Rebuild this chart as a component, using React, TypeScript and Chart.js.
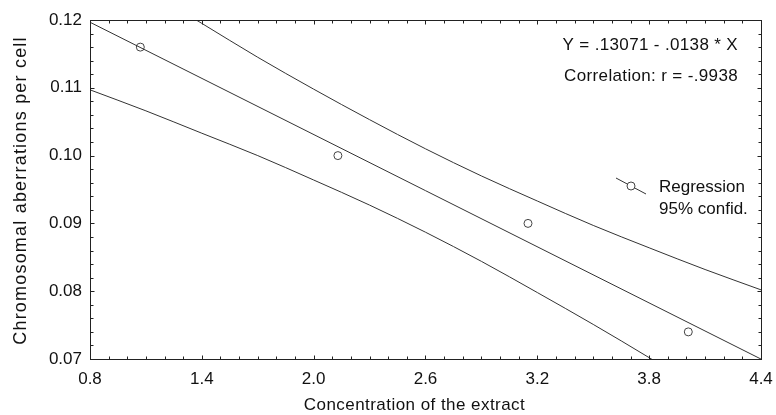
import { useEffect, useRef } from "react";
import { Chart, registerables } from "chart.js";

Chart.register(...registerables);

// Observed data points
const obsX = [1.07, 2.13, 3.15, 4.01];
const obsY = [0.116, 0.1, 0.09, 0.074];

// Regression line (read at the plot edges)
const regX = [0.8, 4.4];
const regY = [0.11967, 0.06999];

// 95% confidence band
const bandX = [0.8, 1.1, 1.4, 1.7, 2.0, 2.3, 2.6, 2.9, 3.2, 3.5, 3.8, 4.1, 4.4];
const upperY = [0.1296, 0.1245, 0.1195, 0.1145, 0.1098, 0.1053, 0.101, 0.097, 0.0933, 0.0897, 0.0864, 0.0832, 0.0802];
const lowerY = [0.1097, 0.1066, 0.1033, 0.1, 0.0964, 0.0927, 0.0887, 0.0844, 0.0798, 0.0751, 0.0702, 0.0651, 0.06];

// Axes
const xMin = 0.8;
const xMax = 4.4;
const yMin = 0.07;
const yMax = 0.12;
const xTicks = [0.8, 1.4, 2.0, 2.6, 3.2, 3.8, 4.4];
const xTickLabels = ["0.8", "1.4", "2.0", "2.6", "3.2", "3.8", "4.4"];
const yTicks = [0.07, 0.08, 0.09, 0.1, 0.11, 0.12];
const yTickLabels = ["0.07", "0.08", "0.09", "0.10", "0.11", "0.12"];
const xMinorStep = 0.1;
const yMinorStep = 0.002;

const xTitle = "Concentration of the extract";
const yTitle = "Chromosomal aberrations per cell";
const equationText = "Y = .13071 - .0138 * X";
const correlationText = "Correlation: r = -.9938";
const legendLabels = ["Regression", "95% confid."];

const FONT = '"Liberation Sans", Arial, sans-serif';
const TEXT = "#111";
const LINE = "#333";

const decorPlugin = {
  id: "decor",
  afterDatasetsDraw(chart: any) {
    const { ctx, chartArea, scales } = chart;
    const { left, right, top, bottom } = chartArea;
    const xs = scales.x;
    const ys = scales.y;
    ctx.save();
    ctx.strokeStyle = "#222";
    ctx.lineWidth = 1;
    const L = Math.round(left) + 0.5;
    const R = Math.round(right) + 0.5;
    const T = Math.round(top) + 0.5;
    const B = Math.round(bottom) + 0.5;
    ctx.strokeRect(L, T, R - L, B - T);
    ctx.beginPath();
    const nx = Math.round((xMax - xMin) / xMinorStep);
    for (let i = 0; i <= nx; i++) {
      const v = xMin + i * xMinorStep;
      const px = Math.round(xs.getPixelForValue(v)) + 0.5;
      const len = i % 6 === 0 ? 4 : 3;
      ctx.moveTo(px, B);
      ctx.lineTo(px, B - len);
      ctx.moveTo(px, T);
      ctx.lineTo(px, T + len);
    }
    const ny = Math.round((yMax - yMin) / yMinorStep);
    for (let i = 0; i <= ny; i++) {
      const v = yMin + i * yMinorStep;
      const py = Math.round(ys.getPixelForValue(v)) + 0.5;
      const len = i % 5 === 0 ? 4 : 3;
      ctx.moveTo(L, py);
      ctx.lineTo(L + len, py);
      ctx.moveTo(R, py);
      ctx.lineTo(R - len, py);
    }
    ctx.stroke();

    // annotation texts
    ctx.fillStyle = TEXT;
    ctx.font = `17px ${FONT}`;
    ctx.textAlign = "right";
    ctx.textBaseline = "middle";
    ctx.letterSpacing = "0.35px";
    ctx.fillText(equationText, 738, 45);
    ctx.fillText(correlationText, 738, 76);
    ctx.letterSpacing = "0px";

    // legend
    ctx.strokeStyle = LINE;
    ctx.beginPath();
    ctx.moveTo(616, 178);
    ctx.lineTo(646, 194);
    ctx.stroke();
    ctx.fillStyle = "#fff";
    ctx.beginPath();
    ctx.arc(631, 186, 4, 0, Math.PI * 2);
    ctx.fill();
    ctx.strokeStyle = "#444";
    ctx.stroke();
    ctx.fillStyle = TEXT;
    ctx.textAlign = "left";
    ctx.fillText(legendLabels[0], 659, 187);
    ctx.fillText(legendLabels[1], 659, 209);

    // axis titles
    ctx.textAlign = "center";
    ctx.letterSpacing = "0.45px";
    ctx.fillText(xTitle, (left + right) / 2 - 11, 405);
    ctx.save();
    ctx.font = `18px ${FONT}`;
    ctx.letterSpacing = "1.2px";
    ctx.translate(21, (top + bottom) / 2 + 1);
    ctx.rotate(-Math.PI / 2);
    ctx.fillText(yTitle, 0, 0);
    ctx.restore();
    ctx.letterSpacing = "0px";
    ctx.restore();
  },
};

export default function App() {
  const ref = useRef<HTMLCanvasElement | null>(null);
  useEffect(() => {
    document.body.style.margin = "0";
    const canvas = ref.current;
    if (!canvas) return;
    const chart = new Chart(canvas, {
      type: "scatter",
      data: {
        datasets: [
          {
            label: "Regression",
            data: regX.map((x, i) => ({ x, y: regY[i] })),
            showLine: true,
            borderColor: LINE,
            borderWidth: 1,
            pointRadius: 0,
          },
          {
            label: "upper",
            data: bandX.map((x, i) => ({ x, y: upperY[i] })),
            showLine: true,
            borderColor: LINE,
            borderWidth: 1,
            pointRadius: 0,
            cubicInterpolationMode: "monotone",
          },
          {
            label: "lower",
            data: bandX.map((x, i) => ({ x, y: lowerY[i] })),
            showLine: true,
            borderColor: LINE,
            borderWidth: 1,
            pointRadius: 0,
            cubicInterpolationMode: "monotone",
          },
          {
            label: "points",
            data: obsX.map((x, i) => ({ x, y: obsY[i] })),
            showLine: false,
            pointRadius: 4,
            pointBorderColor: "#444",
            pointBackgroundColor: "rgba(0,0,0,0)",
            pointBorderWidth: 1,
          },
        ] as any,
      },
      options: {
        animation: false,
        responsive: false,
        devicePixelRatio: 1,
        layout: { padding: { top: 20, right: 15, left: 0, bottom: 0 } },
        plugins: { legend: { display: false }, tooltip: { enabled: false } },
        scales: {
          x: {
            type: "linear",
            min: xMin,
            max: xMax,
            afterBuildTicks: (s: any) => {
              s.ticks = xTicks.map((v) => ({ value: v }));
            },
            afterFit: (s: any) => {
              s.height = 56;
              s.paddingLeft = 0;
              s.paddingRight = 0;
            },
            ticks: {
              autoSkip: false,
              maxRotation: 0,
              padding: 10,
              color: TEXT,
              font: { family: FONT, size: 17 },
              callback: (_v: any, i: number) => xTickLabels[i],
            },
            grid: { display: false, drawTicks: false, tickLength: 0 },
            border: { display: false },
          },
          y: {
            type: "linear",
            min: yMin,
            max: yMax,
            afterBuildTicks: (s: any) => {
              s.ticks = yTicks.map((v) => ({ value: v }));
            },
            afterFit: (s: any) => {
              s.width = 90;
              s.paddingTop = 0;
              s.paddingBottom = 0;
            },
            ticks: {
              autoSkip: false,
              padding: 8,
              color: TEXT,
              font: { family: FONT, size: 17 },
              callback: (_v: any, i: number) => yTickLabels[i],
            },
            grid: { display: false, drawTicks: false, tickLength: 0 },
            border: { display: false },
          },
        },
      } as any,
      plugins: [decorPlugin],
    });
    return () => chart.destroy();
  }, []);
  return (
    <div style={{ position: "absolute", left: 0, top: 0, width: 776, height: 415, background: "#fff" }}>
      <canvas ref={ref} width={776} height={415} style={{ display: "block" }} />
    </div>
  );
}
